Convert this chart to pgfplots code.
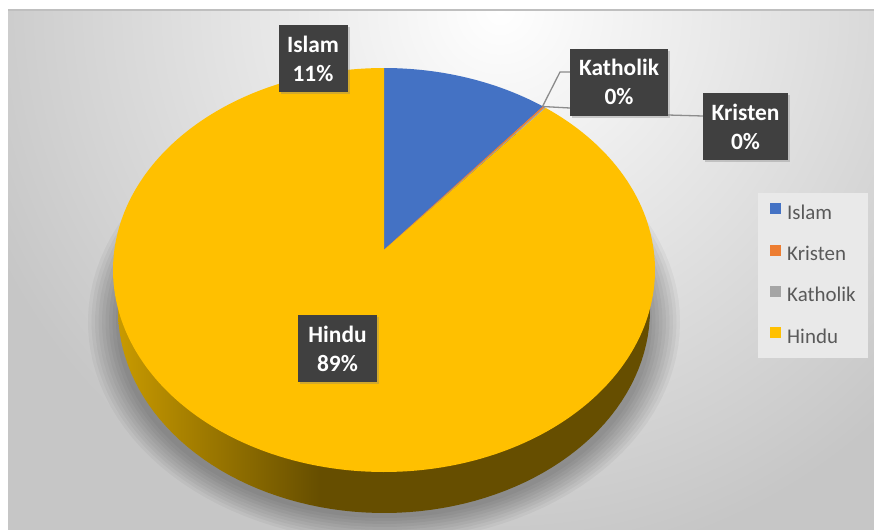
\documentclass[border=0pt]{standalone}
\usepackage{fontspec}
\setmainfont{Carlito}
\usepackage{pgfplots}
\pgfplotsset{compat=1.18}
\usetikzlibrary{shadows}
\definecolor{pieblue}{HTML}{4472C4}
\definecolor{pieorange}{HTML}{ED7D31}
\definecolor{piegray}{HTML}{A5A5A5}
\definecolor{pieyellow}{HTML}{FFC000}
\definecolor{sideL}{HTML}{C89A00}
\definecolor{sideD}{HTML}{664E00}
\definecolor{bggray}{HTML}{C6C6C6}
\definecolor{bordergray}{HTML}{BFBFBF}
\definecolor{labelbg}{HTML}{404040}
\definecolor{leader}{HTML}{8C8C8C}
\definecolor{legtext}{HTML}{595959}
\definecolor{legbg}{HTML}{E9E9E9}
\pgfdeclarehorizontalshading{pieside}{100bp}{color(0bp)=(sideL); color(25bp)=(sideL); color(44bp)=(sideD); color(100bp)=(sideD)}

% data (percent)
\def\vIslam{11}
\def\vKristen{0.1}
\def\vKatholik{0.1}
\def\vHindu{88.8}
\pgfmathsetmacro\total{\vIslam+\vKristen+\vKatholik+\vHindu}
\pgfmathsetmacro\aA{90}
\pgfmathsetmacro\aB{\aA-\vIslam/\total*360}
\pgfmathsetmacro\aC{\aB-\vKristen/\total*360}
\pgfmathsetmacro\aD{\aC-\vKatholik/\total*360}
\pgfmathsetmacro\aE{\aD-\vHindu/\total*360}
% geometry of the tilted pie (pixels)
\def\cx{384}\def\cy{270}\def\ra{271}\def\rb{202}\def\pk{5.7}
\def\vx{384}\def\vy{250}

\begin{document}
\begin{tikzpicture}[
  lab/.style={fill=labelbg, text=white, font=\bfseries\fontsize{23.5}{29}\selectfont,
    align=center, inner sep=0pt, minimum height=67bp,
    drop shadow={opacity=0.35, shadow xshift=2bp, shadow yshift=-2bp}}]
\useasboundingbox (0,0) rectangle (874bp,530bp);
\begin{scope}
\clip (8bp,0bp) rectangle (874bp,520bp);
\fill[inner color=white, outer color=bggray] (-60bp,-40bp) rectangle (1060bp,1080bp);
\end{scope}
\draw[color=bordergray, line width=1.5bp] (8bp,520bp) -- (874bp,520bp);
\begin{axis}[
  scale only axis, width=874bp, height=530bp,
  xmin=0, xmax=874, ymin=0, ymax=530, y dir=reverse,
  hide axis, clip=true,
  legend cell align=left,
  legend image code/.code={\fill (0bp,0.5bp) rectangle (11bp,11.5bp);},
  legend style={at={(axis cs:758,193)}, anchor=north west, fill=legbg, draw=none,
    inner xsep=12bp, inner ysep=10bp, row sep=20.3bp,
    font=\fontsize{21}{21}\selectfont, text=legtext,
    nodes={inner sep=0pt, text height=14bp, text depth=5bp},
    /tikz/every odd column/.append style={column sep=6bp}},
]
\addlegendimage{fill=pieblue, draw=none}\addlegendentry{Islam}
\addlegendimage{fill=pieorange, draw=none}\addlegendentry{Kristen}
\addlegendimage{fill=piegray, draw=none}\addlegendentry{Katholik}
\addlegendimage{fill=pieyellow, draw=none}\addlegendentry{Hindu}

% soft shadow
\foreach \k in {0,...,8}{
  \edef\temp{\noexpand\addplot[fill=black, draw=none, fill opacity=0.04, domain=0:360, samples=120, forget plot]
    ({384+(296-3.5*\k)*cos(x)}, {322-(220-3*\k)*sin(x)}) -- cycle;}
  \temp
}
% side wall
\addplot[shade, shading=pieside, draw=none, domain=0:360, samples=150, forget plot]
  ({384+266*cos(x)}, {310-203*sin(x)}) -- cycle;
% top face slices
\addplot[fill=pieblue, draw=none, domain=\aB:\aA, samples=40, forget plot]
  ({\cx+\ra*cos(x+\pk*cos(x))}, {\cy-\rb*sin(x+\pk*cos(x))}) -- (axis cs:\vx,\vy) -- cycle;
\addplot[fill=pieorange, draw=pieorange, line width=0.4bp, domain=\aC:\aB, samples=3, forget plot]
  ({\cx+\ra*cos(x+\pk*cos(x))}, {\cy-\rb*sin(x+\pk*cos(x))}) -- (axis cs:\vx,\vy) -- cycle;
\addplot[fill=piegray, draw=none, domain=\aD:\aC, samples=3, forget plot]
  ({\cx+\ra*cos(x+\pk*cos(x))}, {\cy-\rb*sin(x+\pk*cos(x))}) -- (axis cs:\vx,\vy) -- cycle;
\addplot[fill=pieyellow, draw=none, domain=\aE:\aD, samples=200, forget plot]
  ({\cx+\ra*cos(x+\pk*cos(x))}, {\cy-\rb*sin(x+\pk*cos(x))}) -- (axis cs:\vx,\vy) -- cycle;

% leader lines
\addplot[leader, line width=1.3bp, forget plot] coordinates {(570,72) (560,72) (542.5,106.5)};
\addplot[leader, line width=1.3bp, forget plot] coordinates {(703,116) (668,115) (570,108) (542.5,106.5)};

% data labels
\node[lab, minimum width=69bp] at (axis cs:313,58.5) {Islam\\11\%};
\node[lab, minimum width=79bp] at (axis cs:337.5,348.5) {Hindu\\89\%};
\node[lab, minimum width=98bp] at (axis cs:619,82) {Katholik\\0\%};
\node[lab, minimum width=85bp] at (axis cs:745.5,126.5) {Kristen\\0\%};
\end{axis}
\end{tikzpicture}
\end{document}
